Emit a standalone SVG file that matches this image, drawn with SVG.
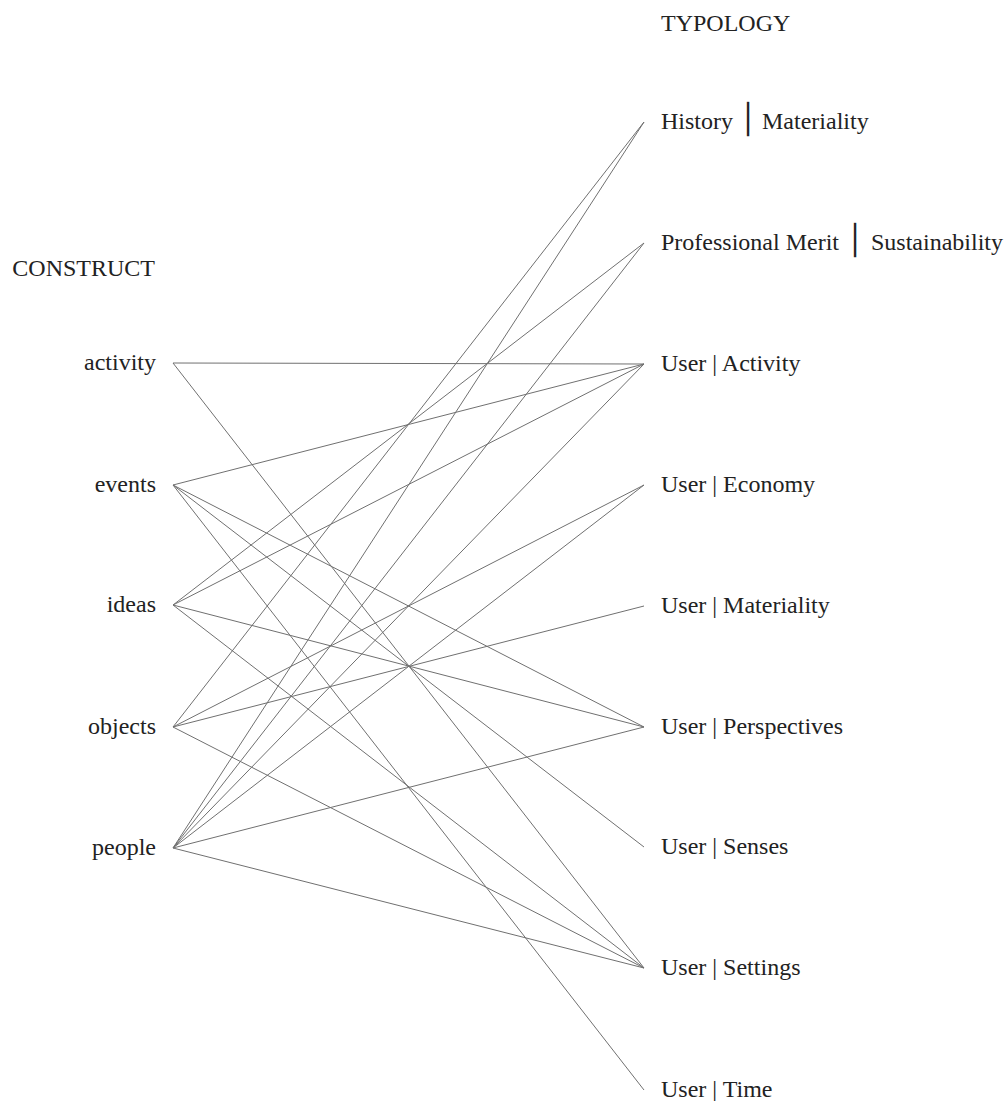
<svg xmlns="http://www.w3.org/2000/svg" width="1007" height="1101" viewBox="0 0 1007 1101">
<style>
text{font-family:"Liberation Serif","Times New Roman",serif;font-size:24px;fill:#222222}
.l{text-anchor:end}
.bar{font-family:"DejaVu Sans","DejaVu Sans Mono",sans-serif;font-size:29px}
#connectors line{stroke:#707070;stroke-width:1;fill:none}
</style>
<rect width="1007" height="1101" fill="#ffffff"/>
<g id="headers">
<text id="typology" x="661" y="31">TYPOLOGY</text>
<text id="construct" class="l" x="155" y="276">CONSTRUCT</text>
</g>
<g id="connectors">
<line x1="173" y1="363" x2="644" y2="364"/>
<line x1="173" y1="363" x2="644" y2="968"/>
<line x1="173" y1="485" x2="644" y2="364"/>
<line x1="173" y1="485" x2="644" y2="727"/>
<line x1="173" y1="485" x2="644" y2="847"/>
<line x1="173" y1="485" x2="644" y2="1090"/>
<line x1="173" y1="605" x2="644" y2="243"/>
<line x1="173" y1="605" x2="644" y2="364"/>
<line x1="173" y1="605" x2="644" y2="727"/>
<line x1="173" y1="605" x2="644" y2="968"/>
<line x1="173" y1="727" x2="644" y2="122"/>
<line x1="173" y1="727" x2="644" y2="485"/>
<line x1="173" y1="727" x2="644" y2="606"/>
<line x1="173" y1="727" x2="644" y2="968"/>
<line x1="173" y1="848" x2="644" y2="122"/>
<line x1="173" y1="848" x2="644" y2="243"/>
<line x1="173" y1="848" x2="644" y2="364"/>
<line x1="173" y1="848" x2="644" y2="485"/>
<line x1="173" y1="848" x2="644" y2="727"/>
<line x1="173" y1="848" x2="644" y2="968"/>
</g>
<g id="c-activity"><text class="l" x="156" y="370">activity</text></g>
<g id="c-events"><text class="l" x="156" y="492">events</text></g>
<g id="c-ideas"><text class="l" x="156" y="612">ideas</text></g>
<g id="c-objects"><text class="l" x="156" y="734">objects</text></g>
<g id="c-people"><text class="l" x="156" y="855">people</text></g>
<g id="t-history"><text x="661" y="129">History <tspan class="bar" x="739.3">│</tspan> <tspan x="762">Materiality</tspan></text></g>
<g id="t-professional"><text x="661" y="250">Professional Merit <tspan class="bar" x="846.3">│</tspan> <tspan x="871">Sustainability</tspan></text></g>
<g id="t-activity"><text x="661" y="371">User | Activity</text></g>
<g id="t-economy"><text x="661" y="492">User | Economy</text></g>
<g id="t-materiality"><text x="661" y="613">User | Materiality</text></g>
<g id="t-perspectives"><text x="661" y="734">User | Perspectives</text></g>
<g id="t-senses"><text x="661" y="854">User | Senses</text></g>
<g id="t-settings"><text x="661" y="975">User | Settings</text></g>
<g id="t-time"><text x="661" y="1097">User | Time</text></g>
</svg>
